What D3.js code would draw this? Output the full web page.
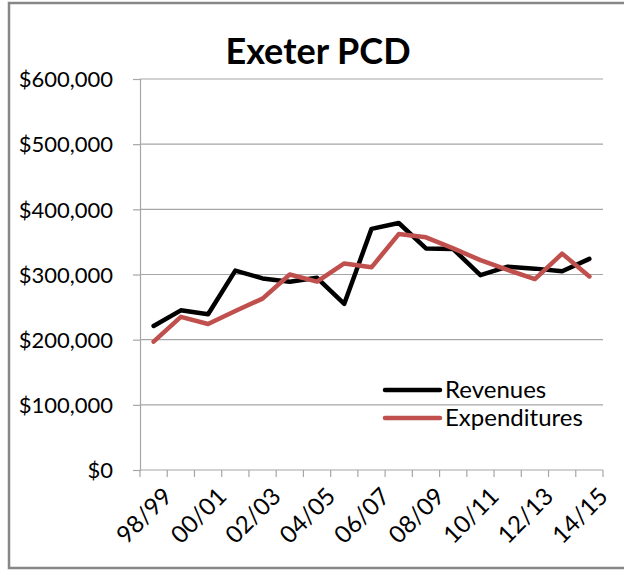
<!DOCTYPE html>
<html>
<head>
<meta charset="utf-8">
<script src="https://cdn.jsdelivr.net/npm/d3@7"></script>
<style>
  body { margin: 0; background: #fff; }
  text { font-family: Lato, "Open Sans", sans-serif; fill: #000; }
</style>
</head>
<body>
<script>
// fiscal years, 98/99 .. 14/15
const years = ["98/99", "99/00", "00/01", "01/02", "02/03", "03/04", "04/05", "05/06",
    "06/07", "07/08", "08/09", "09/10", "10/11", "11/12", "12/13", "13/14", "14/15"];
const revenues = [221000, 245000, 239000, 306000, 294000, 289000, 295000, 255000,
    370000, 379000, 340000, 339000, 299000, 312000, 309000, 305000, 324000];
const expenditures = [197000, 235000, 224000, 244000, 263000, 300000, 289000, 317000,
    311000, 362000, 357000, 340000, 322000, 307000, 293000, 332000, 297000];
const yTicks = [0, 100000, 200000, 300000, 400000, 500000, 600000];
const seriesNames = ["Revenues", "Expenditures"];
const seriesColors = ["#000000", "#c0504d"];

const width = 624, height = 571;
const svg = d3.select("body").append("svg").attr("width", width).attr("height", height);

// outer frame (right edge is cut off in the original)
svg.append("rect")
    .attr("x", 9).attr("y", 3).attr("width", 640).attr("height", 565)
    .attr("fill", "none").attr("stroke", "#878787").attr("stroke-width", 2.5);

const plot = { left: 140, right: 603, top: 79, bottom: 470 };

const x = d3.scaleBand().domain(years).range([plot.left, plot.right]);
const y = d3.scaleLinear().domain([0, 600000]).range([plot.bottom, plot.top]);

// gridlines
svg.append("g").selectAll("line").data(yTicks.filter(d => d > 0)).join("line")
    .attr("x1", plot.left).attr("x2", plot.right)
    .attr("y1", d => y(d)).attr("y2", d => y(d))
    .attr("stroke", "#a6a6a6").attr("stroke-width", 1.2);

// y axis
const yAxis = svg.append("g")
    .attr("transform", `translate(${plot.left},0)`)
    .call(d3.axisLeft(y).tickValues(yTicks).tickSize(7).tickPadding(20)
        .tickFormat(d => "$" + d3.format(",")(d)));
yAxis.selectAll("path, line").attr("stroke", "#a6a6a6").attr("stroke-width", 1.2);
yAxis.selectAll("text").style("font-size", "22px").attr("dy", "0.35em");

// x axis: ticks at band edges, labels on every other year
const xAxis = svg.append("g")
    .attr("transform", `translate(0,${plot.bottom})`);
xAxis.append("line")
    .attr("x1", plot.left).attr("x2", plot.right)
    .attr("stroke", "#a6a6a6").attr("stroke-width", 1.2);
xAxis.selectAll("line.tick").data(years.concat(["end"])).join("line")
    .attr("class", "tick")
    .attr("x1", (d, i) => plot.left + i * x.step())
    .attr("x2", (d, i) => plot.left + i * x.step())
    .attr("y1", 0).attr("y2", 7)
    .attr("stroke", "#a6a6a6").attr("stroke-width", 1.2);
xAxis.selectAll("text").data(years.filter((d, i) => i % 2 === 0)).join("text")
    .attr("transform", d => `translate(${x(d) + x.bandwidth() / 2 + 8},${16}) rotate(-45)`)
    .attr("text-anchor", "end")
    .attr("dy", "0.7em")
    .style("font-size", "24px")
    .text(d => d);

// title
svg.append("text")
    .attr("x", 318).attr("y", 64)
    .attr("text-anchor", "middle")
    .style("font-size", "36px").style("font-weight", "bold")
    .text("Exeter PCD");

// lines
const line = d3.line()
    .x((d, i) => x(years[i]) + x.bandwidth() / 2)
    .y(d => y(d));

[revenues, expenditures].forEach((vals, k) => {
    svg.append("path")
        .datum(vals)
        .attr("d", line)
        .attr("fill", "none")
        .attr("stroke", seriesColors[k])
        .attr("stroke-width", 4.5)
        .attr("stroke-linejoin", "round")
        .attr("stroke-linecap", "round");
});

// legend
const legend = svg.append("g").selectAll("g").data(seriesNames).join("g")
    .attr("transform", (d, i) => `translate(385,${390 + i * 28})`);
legend.append("line")
    .attr("x1", 0).attr("x2", 55)
    .attr("stroke", (d, i) => seriesColors[i])
    .attr("stroke-width", 4.5)
    .attr("stroke-linecap", "round");
legend.append("text")
    .attr("x", 60).attr("dy", "0.35em")
    .style("font-size", "24px")
    .text(d => d);
</script>
</body>
</html>
